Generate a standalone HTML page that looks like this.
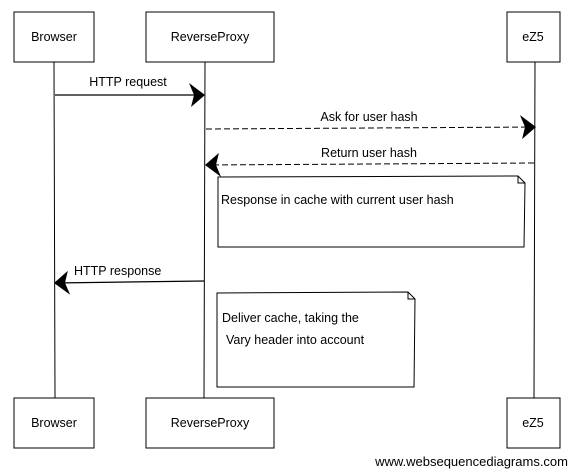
<!DOCTYPE html>
<html><head><meta charset="utf-8"><style>
html,body{margin:0;padding:0;background:#fff;}
svg{display:block;}
text{font-family:"Liberation Sans",sans-serif;font-size:12.5px;fill:#000;}
</style></head><body>
<svg width="572" height="469" viewBox="0 0 572 469" xmlns="http://www.w3.org/2000/svg">
<defs>
<marker id="ah" markerWidth="16" markerHeight="24" refX="15" refY="12" orient="auto" markerUnits="userSpaceOnUse">
<path d="M0,0 L16,12 L2,24 L5,12 Z" fill="#000"/>
</marker>
</defs>
<g stroke="#000" stroke-width="1" fill="none">
<line x1="54" y1="62" x2="55" y2="398"/>
<line x1="205" y1="62" x2="204" y2="398"/>
<line x1="535" y1="62" x2="534" y2="398"/>
<rect x="14" y="12" width="80" height="50" fill="#fff"/>
<rect x="146" y="12" width="128" height="50" fill="#fff"/>
<rect x="507" y="12" width="53" height="50" fill="#fff"/>
<rect x="14" y="398" width="80" height="50" fill="#fff"/>
<rect x="146" y="398" width="128" height="50" fill="#fff"/>
<rect x="507" y="398" width="53" height="50" fill="#fff"/>
<path d="M55,95 L204,95" stroke-width="1.3" marker-end="url(#ah)"/>
<path d="M206,129 L535,127" stroke-dasharray="6,3" marker-end="url(#ah)"/>
<path d="M534,163 L206,165" stroke-dasharray="6,3" marker-end="url(#ah)"/>
<path d="M204,281 L55,283" stroke-width="1.3" marker-end="url(#ah)"/>
<path d="M218,177 L518,176 L525,183 L524,247 L218,247 Z" fill="#fff"/>
<path d="M518,176 L518,183 L525,183"/>
<path d="M217,293 L408,292 L415,299 L414,387 L217,387 Z" fill="#fff"/>
<path d="M408,292 L408,299 L415,299"/>
</g>
<text x="54" y="41" text-anchor="middle">Browser</text>
<text x="210" y="41" text-anchor="middle">ReverseProxy</text>
<text x="533" y="41" text-anchor="middle">eZ5</text>
<text x="54" y="427" text-anchor="middle">Browser</text>
<text x="210" y="427" text-anchor="middle">ReverseProxy</text>
<text x="533" y="427" text-anchor="middle">eZ5</text>
<text x="128" y="86" text-anchor="middle">HTTP request</text>
<text x="369" y="121" text-anchor="middle">Ask for user hash</text>
<text x="369" y="157" text-anchor="middle">Return user hash</text>
<text x="221" y="204">Response in cache with current user hash</text>
<text x="74" y="275">HTTP response</text>
<text x="222" y="322">Deliver cache, taking the</text>
<text x="226" y="344">Vary header into account</text>
<text x="568" y="466" text-anchor="end" style="font-size:13px">www.websequencediagrams.com</text>
</svg>
</body></html>
